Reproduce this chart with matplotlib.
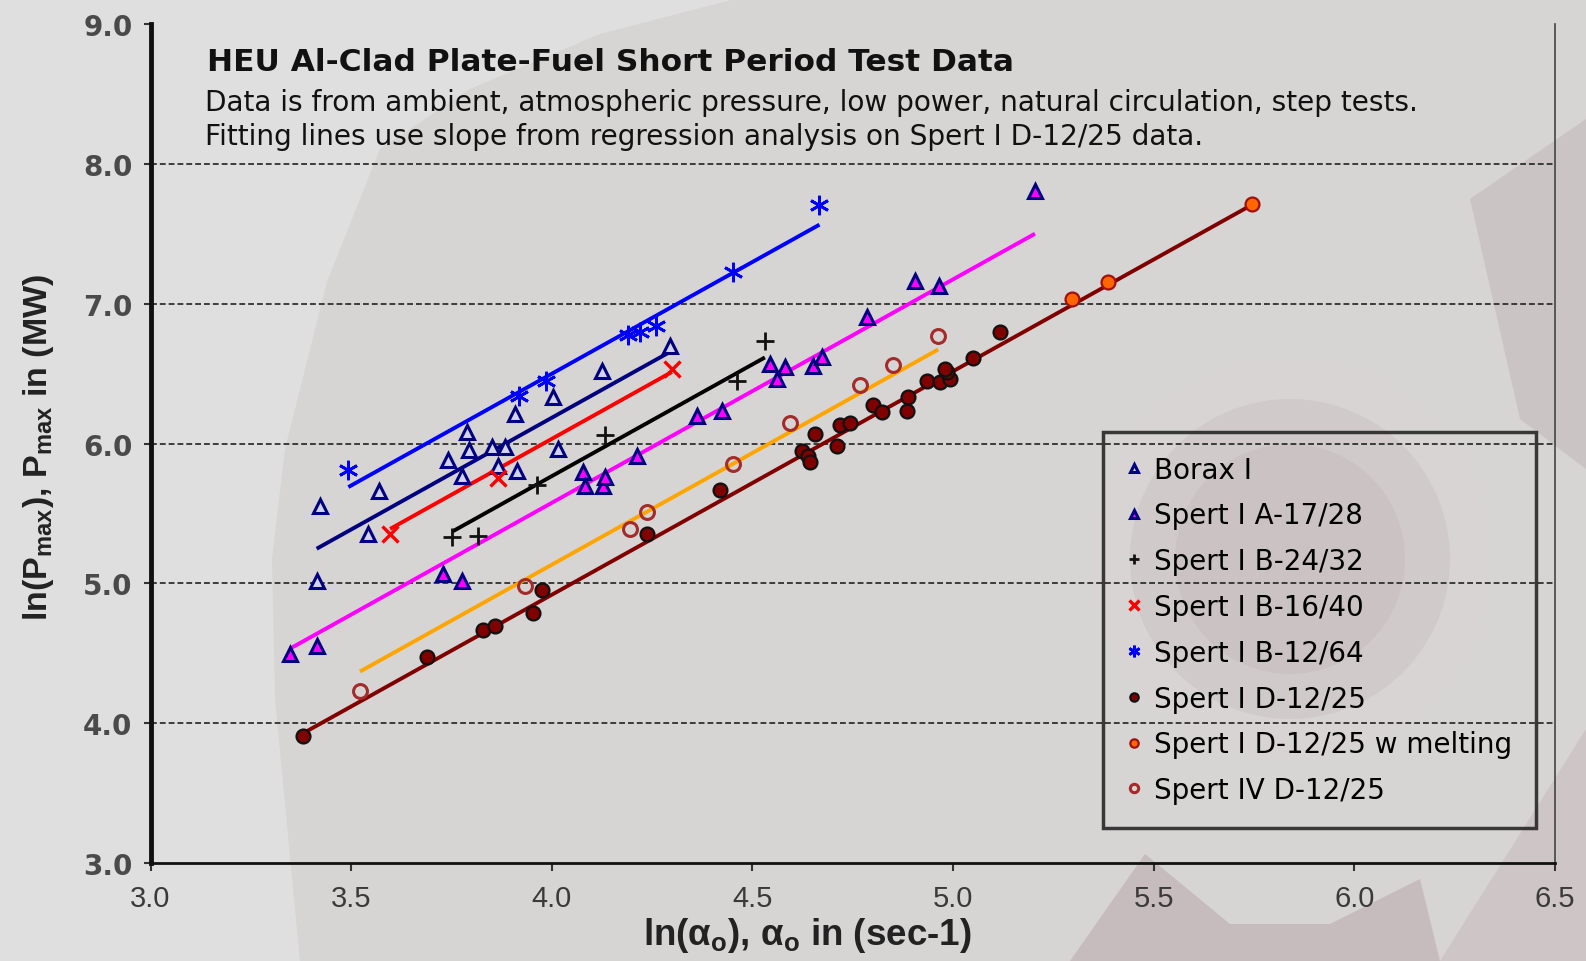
import numpy as np
import matplotlib
matplotlib.use("Agg")
import matplotlib.pyplot as plt
from matplotlib.patches import Polygon, Circle

plt.rcParams['font.family'] = ['Liberation Sans', 'DejaVu Sans']
plt.rcParams['mathtext.fontset'] = 'custom'
plt.rcParams['mathtext.rm'] = 'Liberation Sans:bold'
plt.rcParams['mathtext.default'] = 'rm'

# ---- data: ln(alpha0) vs ln(Pmax) ----
borax_x = [3.414, 3.422, 3.543, 3.570, 3.742, 3.775, 3.788, 3.794, 3.850, 3.867, 3.883,
           3.908, 3.913, 4.004, 4.016, 4.124, 4.295]
borax_y = [5.019, 5.551, 5.353, 5.663, 5.885, 5.766, 6.081, 5.954, 5.974, 5.842, 5.974,
           6.212, 5.806, 6.331, 5.961, 6.522, 6.701]

sperta_x = [3.348, 3.414, 3.730, 3.776, 4.078, 4.083, 4.128, 4.133, 4.212, 4.361, 4.423,
            4.544, 4.560, 4.581, 4.652, 4.673, 4.786, 4.905, 4.966, 5.204]
sperta_y = [4.494, 4.553, 5.067, 5.019, 5.795, 5.699, 5.699, 5.759, 5.913, 6.200, 6.236,
            6.570, 6.462, 6.546, 6.558, 6.618, 6.904, 7.166, 7.130, 7.810]

b2432_x = [3.751, 3.817, 3.963, 4.133, 4.461, 4.531]
b2432_y = [5.329, 5.341, 5.700, 6.062, 6.450, 6.737]

b1640_x = [3.597, 3.867, 4.299]
b1640_y = [5.353, 5.752, 6.534]

b1264_x = [3.493, 3.917, 3.986, 4.190, 4.220, 4.260, 4.452, 4.667]
b1264_y = [5.813, 6.343, 6.447, 6.780, 6.800, 6.840, 7.228, 7.708]

d1225_x = [3.381, 3.688, 3.829, 3.858, 3.954, 3.975, 4.236, 4.419, 4.623, 4.639, 4.643,
           4.656, 4.710, 4.718, 4.743, 4.801, 4.822, 4.884, 4.888, 4.934, 4.967, 4.992,
           4.984, 4.980, 5.050, 5.117]
d1225_y = [3.909, 4.470, 4.668, 4.697, 4.787, 4.954, 5.353, 5.670, 5.949, 5.913, 5.866,
           6.069, 5.985, 6.133, 6.147, 6.276, 6.224, 6.236, 6.331, 6.450, 6.439, 6.462,
           6.510, 6.534, 6.613, 6.797]

melt_x = [5.295, 5.387, 5.744]
melt_y = [7.035, 7.155, 7.715]

spert4_x = [3.522, 3.933, 4.195, 4.236, 4.452, 4.594, 4.768, 4.851, 4.963]
spert4_y = [4.231, 4.983, 5.389, 5.508, 5.854, 6.150, 6.419, 6.563, 6.772]

# fitting lines: common slope from Spert I D-12/25 regression, one intercept per group
fit_slope = 1.6
fit_intercepts = {'b1264': 0.10, 'borax': -0.215, 'b1640': -0.366, 'b2432': -0.633,
                  'sperta': -0.824, 'spert4': -1.267, 'd1225': -1.482}

y_ticks = [3.0, 4.0, 5.0, 6.0, 7.0, 8.0, 9.0]
x_ticks = [3.0, 3.5, 4.0, 4.5, 5.0, 5.5, 6.0, 6.5]

fig = plt.figure(figsize=(15.86, 9.62), dpi=100)
fig.patch.set_facecolor('#dfdfdf')

# decorative background swooshes
bg = fig.add_axes([0, 0, 1, 1], zorder=-10)
bg.set_xlim(0, 1586)
bg.set_ylim(962, 0)
bg.axis('off')
bg.add_patch(Polygon([(735, 0), (1586, 0), (1586, 962), (300, 962), (275, 700), (272, 560),
                      (285, 450), (327, 283), (380, 150), (470, 90), (600, 35)],
                     closed=True, color='#d7d4d4', lw=0))
bg.add_patch(Polygon([(1470, 200), (1586, 120), (1586, 470), (1520, 420)], closed=True,
                     color='#cbc4c5', lw=0))
bg.add_patch(Polygon([(1070, 962), (1145, 855), (1230, 925), (1330, 925), (1420, 880),
                      (1440, 962)], closed=True, color='#c6bcbd', lw=0))
bg.add_patch(Polygon([(1440, 962), (1586, 730), (1586, 962)], closed=True,
                     color='#cdc5c6', lw=0))
for r, c in [(200, '#d8d4d4'), (160, '#d1cacb'), (115, '#cbc2c3')]:
    bg.add_patch(Circle((1290, 560), r, color=c, lw=0))

ax = fig.add_axes([0.0949, 0.1022, 0.8856, 0.8713])
ax.set_facecolor('none')
ax.set_xlim(3.0, 6.5)
ax.set_ylim(3.0, 9.0)

# dashed horizontal grid
for yv in y_ticks[1:-1]:
    ax.axhline(yv, color='#222222', lw=1.2, ls=(0, (3.5, 1.8)), zorder=1)


def fit_line(xs, key, color):
    xx = np.array([min(xs), max(xs)])
    ax.plot(xx, fit_slope * xx + fit_intercepts[key], color=color, lw=2.8, zorder=2,
            solid_capstyle='butt')


fit_line(b1264_x, 'b1264', '#0000ff')
fit_line(borax_x, 'borax', '#000080')
fit_line(b1640_x, 'b1640', '#ff0000')
fit_line(b2432_x, 'b2432', '#000000')
fit_line(sperta_x, 'sperta', '#ff00ff')
fit_line(spert4_x, 'spert4', '#ffa500')
fit_line(d1225_x + melt_x, 'd1225', '#800000')

ms = 10.5
ax.plot(borax_x, borax_y, ls='none', marker='^', ms=ms, mfc='#d4d4ee', mec='#000080', mew=2.2,
        label='Borax I', zorder=3)
ax.plot(sperta_x, sperta_y, ls='none', marker='^', ms=ms, mfc='#ff00ff', mec='#000080', mew=2.2,
        label='Spert I A-17/28', zorder=3)
ax.plot(b2432_x, b2432_y, ls='none', marker='+', ms=13, mec='#111111', mew=2,
        label='Spert I B-24/32', zorder=3)
ax.plot(b1640_x, b1640_y, ls='none', marker='x', ms=11, mec='#ff0000', mew=2.4,
        label='Spert I B-16/40', zorder=3)
ax.plot(b1264_x, b1264_y, ls='none', marker=(6, 2, 0), ms=14, mec='#0000ff', mew=2,
        label='Spert I B-12/64', zorder=3)
ax.plot(d1225_x, d1225_y, ls='none', marker='o', ms=10, mfc='#800000', mec='#111111', mew=1.6,
        label='Spert I D-12/25', zorder=4)
ax.plot(melt_x, melt_y, ls='none', marker='o', ms=10, mfc='#ff6600', mec='#a01010', mew=1.6,
        label='Spert I D-12/25 w melting', zorder=4)
ax.plot(spert4_x, spert4_y, ls='none', marker='o', ms=10, mfc='none', mec='#a52a2a', mew=2.2,
        label='Spert IV D-12/25', zorder=4)

# axes styling
ax.spines['top'].set_visible(False)
ax.spines['left'].set_linewidth(3.5)
ax.spines['left'].set_color('#111111')
ax.spines['bottom'].set_linewidth(2)
ax.spines['bottom'].set_color('#111111')
ax.spines['right'].set_linewidth(1.2)
ax.spines['right'].set_color('#444444')
ax.set_yticks(y_ticks)
ax.set_yticklabels(['%.1f' % v for v in y_ticks], fontsize=20, color='#4a4a4a',
                   family=['DejaVu Sans'], fontweight='bold')
ax.set_xticks(x_ticks)
ax.set_xticklabels(['%.1f' % v for v in x_ticks], fontsize=21, color='#3a3a3a')
ax.tick_params(axis='y', direction='out', length=5, width=1.5, pad=8, color='#333333')
ax.tick_params(axis='x', direction='out', length=6, width=1.5, pad=9, color='#333333')

fig.text(807.6 / 1586, 1 - 935.6 / 962, r'ln($\alpha_o$), $\alpha_o$ in (sec-1)',
         fontsize=26.5, fontweight='bold', color='#222222', ha='center', va='center')
fig.text(38.4 / 1586, 1 - 447 / 962, r'ln(P$_{max}$), P$_{max}$ in (MW)', rotation=90,
         fontsize=24.5, fontweight='bold', color='#222222', ha='center', va='center')

ax.text(0.0402, 0.946, 'HEU Al-Clad Plate-Fuel Short Period Test Data', transform=ax.transAxes,
        fontsize=22.5, fontweight='bold', color='#111111', va='baseline', family=['DejaVu Sans'])
ax.text(0.0388, 0.8976, 'Data is from ambient, atmospheric pressure, low power, natural '
        'circulation, step tests.', transform=ax.transAxes, fontsize=20.2, color='#111111',
        va='baseline', family=['DejaVu Sans'])
ax.text(0.0388, 0.858, 'Fitting lines use slope from regression analysis on Spert I D-12/25 '
        'data.', transform=ax.transAxes, fontsize=20.2, color='#111111', va='baseline',
        family=['DejaVu Sans'])

leg = ax.legend(loc='upper left', bbox_to_anchor=(0.6778, 0.5138), borderaxespad=0,
                prop={'family': 'DejaVu Sans', 'size': 20},
                frameon=True, fancybox=False, handlelength=0.6, handletextpad=0.4,
                labelspacing=0.64, borderpad=0.85, markerscale=0.6)
leg.get_frame().set_facecolor('none')
leg.get_frame().set_edgecolor('#111111')
leg.get_frame().set_linewidth(2.5)

fig.savefig('out.png', dpi=100, facecolor=fig.get_facecolor())
